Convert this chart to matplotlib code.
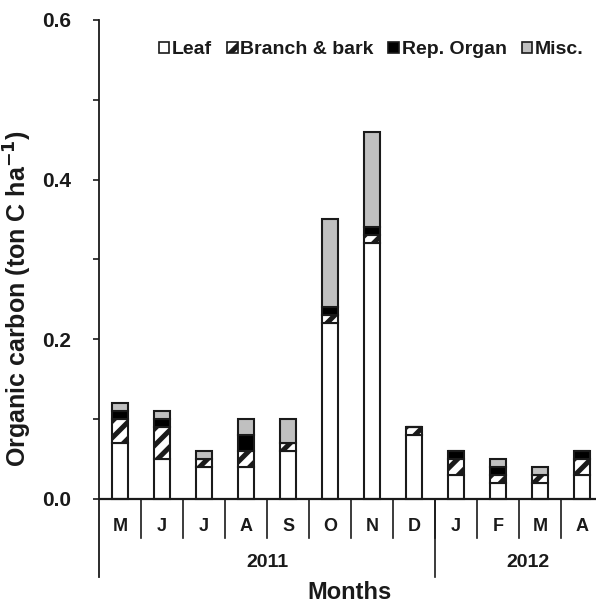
import numpy as np
import matplotlib.pyplot as plt
from matplotlib.patches import Patch

plt.rcParams['font.family'] = ['Liberation Sans', 'DejaVu Sans']
plt.rcParams['font.weight'] = 'bold'
plt.rcParams['hatch.linewidth'] = 3.6

# Monthly litterfall carbon by component (ton C/ha)
months = ['M', 'J', 'J', 'A', 'S', 'O', 'N', 'D', 'J', 'F', 'M', 'A']
years = ['2011', '2012']
year_len = [8, 4]
leaf   = [0.07, 0.05, 0.04, 0.04, 0.06, 0.22, 0.32, 0.08, 0.03, 0.02, 0.02, 0.03]
branch = [0.03, 0.04, 0.01, 0.02, 0.01, 0.01, 0.01, 0.01, 0.02, 0.01, 0.01, 0.02]
rep    = [0.01, 0.01, 0.00, 0.02, 0.00, 0.01, 0.01, 0.00, 0.01, 0.01, 0.00, 0.01]
misc   = [0.01, 0.01, 0.01, 0.02, 0.03, 0.11, 0.12, 0.00, 0.00, 0.01, 0.01, 0.00]

comps = [('Leaf', leaf, 'white', None),
         ('Branch & bark', branch, 'white', '//'),
         ('Rep. Organ', rep, 'black', None),
         ('Misc.', misc, '#c0c0c0', None)]

ink = '#1a1a1a'
fig = plt.figure(figsize=(5.96, 6.05), dpi=100)
ax = fig.add_axes([0.166, 0.0463, 0.846, 0.921])

x = np.arange(len(months)) + 0.5
bottom = np.zeros(len(months))
for name, vals, fc, hatch in comps:
    vals = np.array(vals)
    ax.bar(x, vals, 0.38, bottom=bottom, color=fc, edgecolor=ink,
           hatch=hatch, linewidth=1.5, zorder=3)
    bottom += vals

ax.set_xlim(0, len(months))
ax.set_ylim(-0.0977, 0.6)

# y axis: only the left spine, ticks outward
for s in ['top', 'right', 'bottom']:
    ax.spines[s].set_visible(False)
ax.spines['left'].set_linewidth(1.3)
ax.spines['left'].set_color(ink)
ax.set_yticks([0.0, 0.2, 0.4, 0.6])
ax.set_yticks([0.1, 0.3, 0.5], minor=True)
ax.set_yticklabels(['0.0', '0.2', '0.4', '0.6'])
ax.tick_params(axis='y', which='both', direction='out', length=4, width=1.2,
               color=ink, labelsize=15, labelcolor=ink, pad=16)
ax.set_xticks([])
ax.set_ylabel('Organic carbon (ton C ha$^{\\mathbf{-1}}$)', fontsize=18,
              fontweight='bold', color=ink, labelpad=6)

# baseline and month / year separators below it
ax.axhline(0, color=ink, linewidth=1.6, zorder=4)
for i in range(1, len(months)):
    ax.plot([i, i], [0, -0.049], color=ink, linewidth=1.2, clip_on=False)
for i, m in enumerate(months):
    ax.text(i + 0.5, -0.034, m, ha='center', va='center', fontsize=13,
            fontweight='bold', color=ink)
start = 0
for yr, n in zip(years, year_len):
    if start > 0:
        ax.plot([start, start], [0, -0.0977], color=ink, linewidth=1.2,
                clip_on=False)
    ax.text(start + n / 2 + (0.2 if start > 0 else 0), -0.080, yr,
            ha='center', va='center', fontsize=14, fontweight='bold', color=ink)
    start += n

fig.text(0.587, 0.021, 'Months', ha='center', va='center', fontsize=17,
         fontweight='bold', color=ink)

handles = [Patch(facecolor=fc, edgecolor=ink, hatch=h, linewidth=1.2, label=n)
           for n, _, fc, h in comps]
leg = ax.legend(handles=handles, ncol=4, loc='center right',
                bbox_to_anchor=(0.962, 0.946), frameon=False, fontsize=14,
                handlelength=0.55, handleheight=0.55, handletextpad=0.15,
                columnspacing=0.75, borderpad=0, borderaxespad=0)
for t in leg.get_texts():
    t.set_color(ink)

fig.savefig('out.png', dpi=100)
